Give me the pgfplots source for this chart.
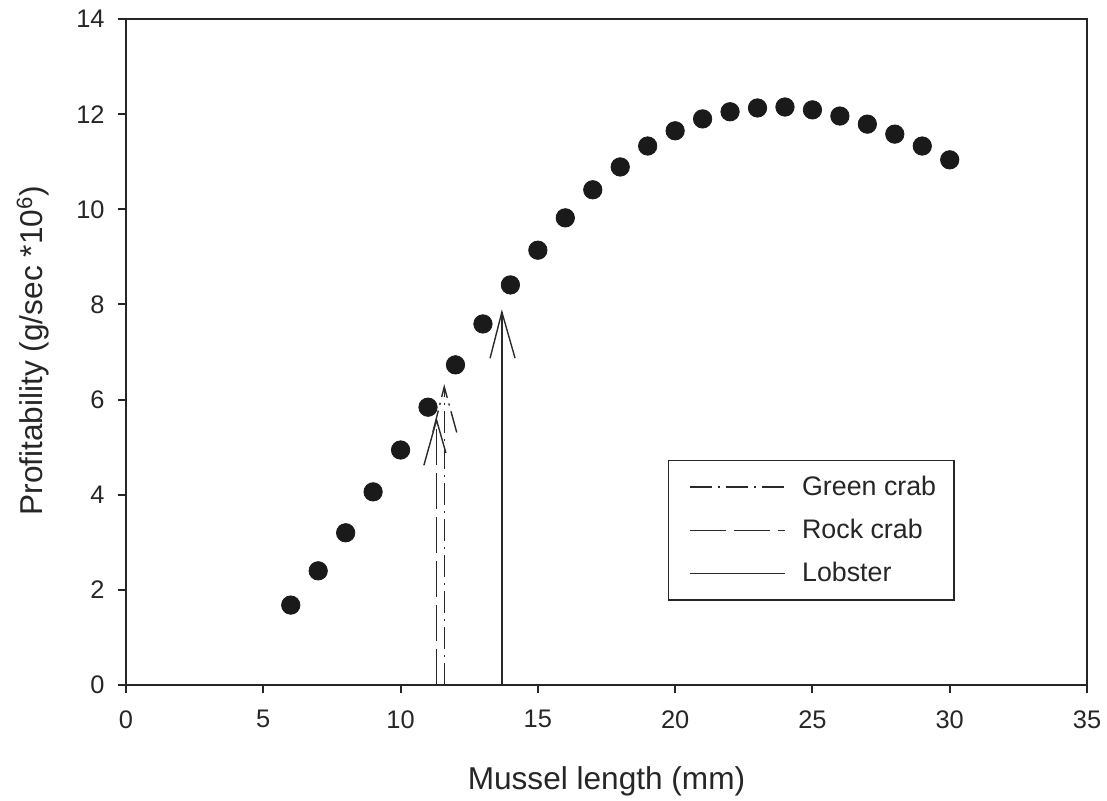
\documentclass[border=0pt]{standalone}
\usepackage{pgfplots}
\pgfplotsset{compat=1.18}
\usepackage{fontspec}
\setmainfont{Liberation Sans}
\definecolor{dot}{HTML}{1A1A1A}
\definecolor{ln}{HTML}{2A2A2A}
\begin{document}
\begin{tikzpicture}
\begin{axis}[
  at={(0,0)}, anchor=south west,
  scale only axis, width=480.5pt, height=333pt,
  xmin=0, xmax=35, ymin=0, ymax=14,
  xtick={0,5,...,35}, ytick={0,2,...,14},
  tick align=outside, major tick length=4.2pt,
  axis line style={line width=1pt, black!85},
  tick style={line width=1pt, black!85},
  xtick pos=bottom, ytick pos=left,
  /pgf/number format/assume math mode=true,
  tick label style={font=\fontsize{12.7}{15}\selectfont, text=black!85},
  xticklabel style={yshift=-5pt},
  yticklabel style={xshift=-3pt},
  xlabel={Mussel length (mm)},
  ylabel={Profitability (g/sec *10\textsuperscript{6})},
  label style={font=\fontsize{15.8}{18}\selectfont, text=black!85},
  xlabel style={at={(axis description cs:0.5,-0.144)}, anchor=center},
  ylabel style={at={(axis description cs:-0.0968,0.502)}, anchor=center},
  legend style={at={(axis cs:19.74,4.73)}, anchor=north west, draw=black!85, line width=0.7pt,
    font=\fontsize{13.4}{16}\selectfont, inner xsep=7pt, inner ysep=5.5pt, row sep=6.5pt,
    text=black!85, /tikz/every odd column/.append style={column sep=6pt}},
  legend cell align=left,
  legend image code/.code={\path (0pt,0pt); \draw[#1,-] (3.5pt,0pt) -- (51pt,0pt);},
]
\addplot[only marks, mark=*, mark size=4.6pt, color=dot, forget plot] coordinates {
(6,1.68)(7,2.40)(8,3.20)(9,4.06)(10,4.94)(11,5.84)(12,6.73)(13,7.59)(14,8.41)(15,9.14)
(16,9.82)(17,10.41)(18,10.89)(19,11.33)(20,11.65)(21,11.90)(22,12.05)(23,12.13)(24,12.15)
(25,12.09)(26,11.96)(27,11.79)(28,11.58)(29,11.33)(30,11.04)};
% Green crab
\addplot[ln, line width=0.7pt, dash pattern=on 11pt off 3pt on 1pt off 3pt] coordinates {(11.59,0)(11.59,6.27)};
\addlegendentry{Green crab}
% Rock crab
\addplot[ln, line width=0.7pt, dash pattern=on 18pt off 4pt] coordinates {(11.31,0)(11.31,5.57)};
\addlegendentry{Rock crab}
% Lobster
\addplot[ln, line width=0.7pt] coordinates {(13.69,0)(13.69,7.84)};
\addlegendentry{Lobster}
% arrow heads
\addplot[ln, line width=0.7pt, dash pattern=on 11pt off 3pt on 1pt off 3pt, forget plot] coordinates {(11.18,5.32)(11.59,6.27)(12.05,5.30)};
\addplot[ln, line width=0.7pt, forget plot] coordinates {(10.85,4.62)(11.31,5.57)(11.65,4.88)};
\addplot[ln, line width=0.7pt, forget plot] coordinates {(13.26,6.87)(13.69,7.84)(14.17,6.87)};
\end{axis}
\pgfresetboundingbox
\path (-63pt,-57.5pt) rectangle (490.5pt,342.5pt);
\end{tikzpicture}
\end{document}
